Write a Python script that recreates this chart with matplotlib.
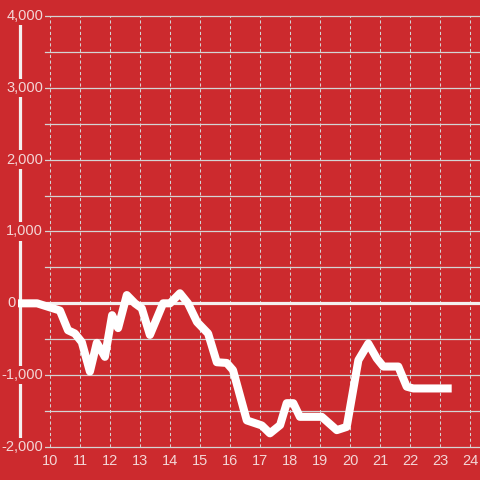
import matplotlib
matplotlib.use("Agg")
import matplotlib.pyplot as plt

plt.rcParams['font.family'] = ['Liberation Sans', 'DejaVu Sans']

hours = [8.93, 9.57, 10.33, 10.6, 10.83, 11.06, 11.33, 11.56, 11.83, 12.07, 12.27,
         12.56, 12.83, 13.06, 13.33, 13.77, 14.0, 14.33, 14.6, 14.9, 15.27, 15.56,
         15.89, 16.1, 16.56, 17.06, 17.33, 17.67, 17.89, 18.11, 18.33, 19.06, 19.56,
         19.89, 20.28, 20.61, 20.89, 21.11, 21.61, 21.89, 22.11, 23.39]
values = [0, 0, -100, -375, -420, -540, -950, -550, -745, -165, -345,
          115, 0, -70, -440, 0, 0, 140, 0, -260, -420, -820,
          -830, -930, -1630, -1700, -1810, -1695, -1390, -1390, -1580, -1580, -1765,
          -1720, -790, -560, -765, -880, -880, -1160, -1185, -1185]

x_ticks = list(range(10, 25))
y_ticks = [-2000, -1000, 0, 1000, 2000, 3000, 4000]
y_grid = [-2000, -1500, -1000, -500, 500, 1000, 1500, 2000, 2500, 3000, 3500, 4000]

bg = '#cc2a2e'
txt = '#f3d6d6'
grid_c = '#d4d4d4'

fig = plt.figure(figsize=(4.8, 4.8), dpi=100, facecolor=bg)
ax = fig.add_axes([0, 0, 1, 1])
ax.set_facecolor(bg)
x0, x1 = 8.3333, 24.3333
y0, y1 = -2459.4, 4222.7
ax.set_xlim(x0, x1)
ax.set_ylim(y0, y1)
ax.axis('off')

for yv in y_grid:
    ax.plot([9.83, x1], [yv, yv], color=grid_c, lw=0.9, zorder=1)
for xv in x_ticks:
    ax.plot([xv, xv], [-2000, 4000], color=grid_c, lw=0.75,
            linestyle=(0, (3, 2.5)), zorder=1)

ax.plot([9.0, x1], [0, 0], color='#f4f0f0', lw=2.3, zorder=2)
ax.plot([9.0, 9.0], [-2000, 4000], color='#f4f0f0', lw=2.3, zorder=2)

ax.plot(hours, values, color='white', lw=5.8, solid_joinstyle='round',
        solid_capstyle='butt', zorder=3)

for yv in y_ticks:
    xr = 8.85 if yv == 0 else 9.77
    ax.text(xr, yv, f"{yv:,}", ha='right', va='center', color=txt,
            fontsize=10.5, zorder=5,
            bbox=dict(boxstyle='square,pad=0.15', fc=bg, ec='none'))
for xv in x_ticks:
    ax.text(xv, -2195, str(xv), ha='center', va='center', color=txt,
            fontsize=10.5, zorder=5)

fig.savefig('out.png', dpi=100, facecolor=bg)
